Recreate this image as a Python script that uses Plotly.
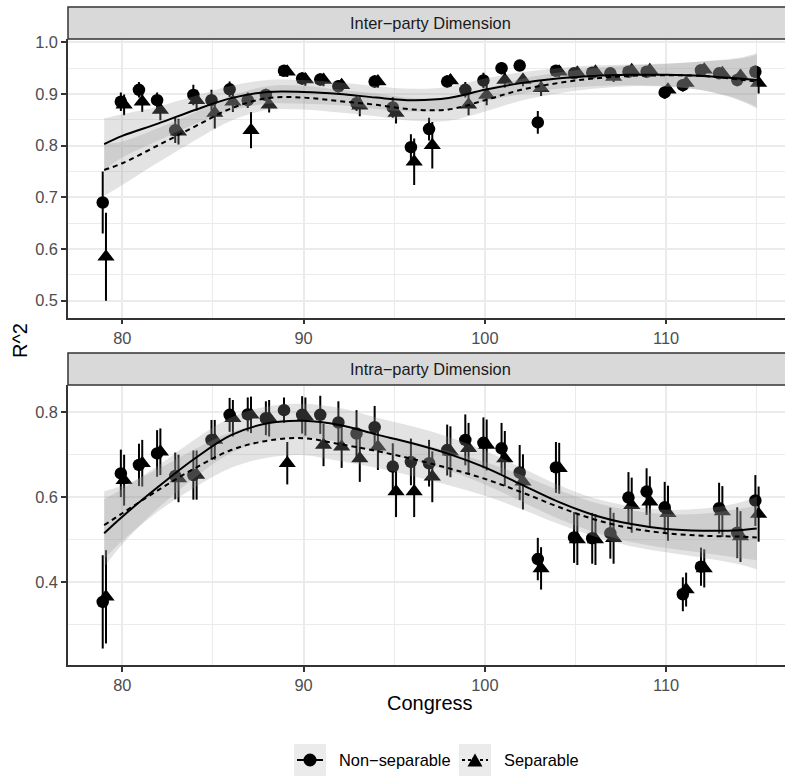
import plotly.graph_objects as go

W, H = 785, 776

# ---------------- data ----------------
congress = list(range(79, 116))

inter_nonsep = [0.690, 0.885, 0.908, 0.888, 0.830, 0.898, 0.888, 0.909, 0.888, 0.898,
                0.945, 0.930, 0.928, 0.915, 0.882, 0.924, 0.874, 0.797, 0.832, 0.924,
                0.908, 0.926, 0.950, 0.955, 0.845, 0.945, 0.940, 0.941, 0.940, 0.943,
                0.943, 0.903, 0.917, 0.946, 0.940, 0.927, 0.943]
inter_nonsep_err = [0.060, 0.018, 0.015, 0.015, 0.025, 0.020, 0.020, 0.015, 0.015, 0.012,
                    0.010, 0.012, 0.012, 0.012, 0.015, 0.012, 0.020, 0.025, 0.022, 0.012,
                    0.015, 0.015, 0.012, 0.010, 0.022, 0.010, 0.010, 0.010, 0.010, 0.010,
                    0.010, 0.012, 0.012, 0.010, 0.010, 0.012, 0.012]
inter_sep = [0.585, 0.879, 0.885, 0.869, 0.827, 0.888, 0.863, 0.885, 0.830, 0.879,
             0.943, 0.928, 0.927, 0.917, 0.877, 0.924, 0.863, 0.769, 0.801, 0.926,
             0.879, 0.898, 0.927, 0.927, 0.911, 0.943, 0.941, 0.943, 0.933, 0.946,
             0.946, 0.908, 0.921, 0.947, 0.940, 0.935, 0.921]
inter_sep_err = [0.085, 0.020, 0.020, 0.020, 0.025, 0.020, 0.030, 0.020, 0.035, 0.015,
                 0.010, 0.012, 0.012, 0.012, 0.020, 0.012, 0.020, 0.045, 0.045, 0.012,
                 0.020, 0.020, 0.015, 0.012, 0.015, 0.010, 0.010, 0.010, 0.010, 0.010,
                 0.010, 0.012, 0.012, 0.010, 0.010, 0.012, 0.020]

intra_nonsep = [0.353, 0.656, 0.676, 0.703, 0.650, 0.652, 0.735, 0.794, 0.795, 0.786,
                0.805, 0.794, 0.794, 0.776, 0.750, 0.765, 0.672, 0.683, 0.680, 0.711,
                0.735, 0.728, 0.715, 0.658, 0.454, 0.670, 0.505, 0.503, 0.515, 0.599,
                0.613, 0.576, 0.371, 0.436, 0.574, 0.516, 0.592]
intra_nonsep_err = [0.110, 0.056, 0.050, 0.055, 0.055, 0.058, 0.047, 0.040, 0.040, 0.040,
                    0.030, 0.044, 0.045, 0.050, 0.055, 0.050, 0.055, 0.055, 0.055, 0.060,
                    0.060, 0.060, 0.060, 0.065, 0.050, 0.060, 0.060, 0.060, 0.060, 0.060,
                    0.055, 0.060, 0.040, 0.045, 0.060, 0.060, 0.060]
intra_sep = [0.365, 0.640, 0.680, 0.707, 0.644, 0.652, 0.735, 0.786, 0.794, 0.786,
             0.680, 0.790, 0.723, 0.719, 0.691, 0.719, 0.613, 0.613, 0.648, 0.707,
             0.715, 0.723, 0.691, 0.636, 0.432, 0.668, 0.500, 0.500, 0.503, 0.581,
             0.589, 0.562, 0.382, 0.432, 0.566, 0.507, 0.560]
intra_sep_err = [0.110, 0.060, 0.055, 0.055, 0.056, 0.058, 0.047, 0.043, 0.043, 0.043,
                 0.050, 0.045, 0.050, 0.050, 0.055, 0.055, 0.060, 0.060, 0.060, 0.060,
                 0.060, 0.060, 0.065, 0.065, 0.050, 0.060, 0.060, 0.060, 0.060, 0.065,
                 0.060, 0.065, 0.040, 0.045, 0.060, 0.060, 0.065]

# loess fits
smooth_x = [79, 80, 82, 84, 86, 88, 90, 92, 94, 96, 98, 100, 102, 104, 106, 108, 110, 112, 114, 115]
inter_fit_nonsep = [0.803, 0.819, 0.843, 0.869, 0.892, 0.904, 0.904, 0.900, 0.893, 0.888,
                    0.892, 0.908, 0.921, 0.930, 0.935, 0.937, 0.937, 0.935, 0.930, 0.927]
inter_fit_sep = [0.753, 0.766, 0.801, 0.837, 0.872, 0.892, 0.893, 0.886, 0.879, 0.870,
                 0.870, 0.888, 0.908, 0.921, 0.930, 0.935, 0.936, 0.935, 0.928, 0.924]
inter_fit_se = [0.050, 0.042, 0.033, 0.027, 0.024, 0.023, 0.023, 0.022, 0.022, 0.022,
                0.022, 0.022, 0.021, 0.020, 0.020, 0.020, 0.022, 0.028, 0.040, 0.052]
intra_fit_nonsep = [0.515, 0.554, 0.625, 0.691, 0.746, 0.774, 0.780, 0.770, 0.748, 0.727,
                    0.702, 0.670, 0.630, 0.590, 0.558, 0.537, 0.525, 0.521, 0.522, 0.526]
intra_fit_sep = [0.534, 0.562, 0.617, 0.668, 0.711, 0.733, 0.739, 0.725, 0.709, 0.690,
                 0.668, 0.643, 0.612, 0.578, 0.548, 0.527, 0.515, 0.509, 0.507, 0.505]
intra_fit_se = [0.080, 0.065, 0.050, 0.045, 0.042, 0.040, 0.040, 0.040, 0.040, 0.040,
                0.040, 0.040, 0.040, 0.040, 0.040, 0.042, 0.045, 0.052, 0.065, 0.075]

panel_titles = ["Inter\u2212party Dimension", "Intra\u2212party Dimension"]
series_names = ["Non\u2212separable", "Separable"]
x_ticks = [80, 90, 100, 110]
x_minor = [85, 95, 105, 115]
top_y_ticks = [0.5, 0.6, 0.7, 0.8, 0.9, 1.0]
top_y_minor = [0.55, 0.65, 0.75, 0.85, 0.95]
bot_y_ticks = [0.4, 0.6, 0.8]
bot_y_minor = [0.3, 0.5, 0.7]

# ---------------- layout helpers ----------------
def px(X):
    return X / W

def py(Y):
    return 1 - Y / H

FONT = "Liberation Sans, Arial, Helvetica, sans-serif"
SMALL = 16.4
BIG = 20
RIBBON = "rgba(153,153,153,0.27)"
DASH = "5px,4px"

PANEL_L = 68
TOP = (39, 317.7)
BOT = (385, 665)
XRANGE = [77.005, 116.555]

fig = go.Figure()

panels = [
    ("x", "y", inter_nonsep, inter_nonsep_err, inter_sep, inter_sep_err,
     inter_fit_nonsep, inter_fit_sep, inter_fit_se),
    ("x2", "y2", intra_nonsep, intra_nonsep_err, intra_sep, intra_sep_err,
     intra_fit_nonsep, intra_fit_sep, intra_fit_se),
]

for xa, ya, ns, nse, sp, spe, fns, fsp, fse in panels:
    # points with error bars
    fig.add_trace(go.Scatter(
        x=[c - 0.08 for c in congress], y=ns, mode="markers",
        marker=dict(symbol="circle", size=12.5, color="black", line=dict(width=0)),
        error_y=dict(type="data", array=nse, symmetric=True, thickness=2, width=0, color="black"),
        xaxis=xa, yaxis=ya, hoverinfo="skip", showlegend=False))
    fig.add_trace(go.Scatter(
        x=[c + 0.10 for c in congress], y=sp, mode="markers",
        marker=dict(symbol="triangle-up", size=15, color="black", line=dict(width=0)),
        error_y=dict(type="data", array=spe, symmetric=True, thickness=2, width=0, color="black"),
        xaxis=xa, yaxis=ya, hoverinfo="skip", showlegend=False))
    # ribbons (drawn above the points, like ggplot)
    for fit in (fns, fsp):
        lo = [v - s for v, s in zip(fit, fse)]
        hi = [v + s for v, s in zip(fit, fse)]
        fig.add_trace(go.Scatter(x=smooth_x, y=lo, mode="lines",
                                 line=dict(width=0, shape="spline", color="rgba(0,0,0,0)"),
                                 xaxis=xa, yaxis=ya, hoverinfo="skip", showlegend=False))
        fig.add_trace(go.Scatter(x=smooth_x, y=hi, mode="lines", fill="tonexty",
                                 fillcolor=RIBBON,
                                 line=dict(width=0, shape="spline", color="rgba(0,0,0,0)"),
                                 xaxis=xa, yaxis=ya, hoverinfo="skip", showlegend=False))
    # fitted lines
    fig.add_trace(go.Scatter(x=smooth_x, y=fns, mode="lines",
                             line=dict(color="black", width=2, shape="spline"),
                             xaxis=xa, yaxis=ya, hoverinfo="skip", showlegend=False))
    fig.add_trace(go.Scatter(x=smooth_x, y=fsp, mode="lines",
                             line=dict(color="black", width=2, shape="spline", dash=DASH),
                             xaxis=xa, yaxis=ya, hoverinfo="skip", showlegend=False))

axis_common = dict(
    showline=True, linecolor="#333333", linewidth=1.5,
    ticks="outside", ticklen=5, tickwidth=1.5, tickcolor="#333333",
    tickfont=dict(family=FONT, size=SMALL, color="#4d4d4d"),
    showgrid=True, gridcolor="#ebebeb", gridwidth=2, zeroline=False,
)

def xaxis_cfg(anchor):
    return dict(axis_common, domain=[px(PANEL_L), 1], range=XRANGE, anchor=anchor,
                tickmode="array", tickvals=x_ticks,
                minor=dict(tickvals=x_minor, showgrid=True, gridcolor="#ebebeb",
                           gridwidth=1, ticks=""))

def yaxis_cfg(anchor, dom, rng, ticks, minor):
    return dict(axis_common, domain=dom, range=rng, anchor=anchor,
                tickmode="array", tickvals=ticks, tickformat=".1f",
                minor=dict(tickvals=minor, showgrid=True, gridcolor="#ebebeb",
                           gridwidth=1, ticks=""))

fig.update_layout(
    width=W, height=H,
    margin=dict(l=0, r=0, t=0, b=0, autoexpand=False),
    paper_bgcolor="white", plot_bgcolor="white",
    showlegend=False,
    xaxis=xaxis_cfg("y"),
    yaxis=yaxis_cfg("x", [py(TOP[1]), py(TOP[0])], [0.467, 1.0064], top_y_ticks, top_y_minor),
    xaxis2=xaxis_cfg("y2"),
    yaxis2=yaxis_cfg("x2", [py(BOT[1]), py(BOT[0])], [0.2042, 0.8644], bot_y_ticks, bot_y_minor),
)

shapes = []
annotations = []

# facet strips
for (y0, y1), title in zip([(7, 39), (353, 385)], panel_titles):
    shapes.append(dict(type="rect", xref="paper", yref="paper",
                       x0=px(PANEL_L), x1=px(W + 20), y0=py(y1), y1=py(y0),
                       fillcolor="#d9d9d9", line=dict(color="#333333", width=1.5)))
    annotations.append(dict(text=title, xref="paper", yref="paper",
                            x=px(430), y=py((y0 + y1) / 2), showarrow=False,
                            xanchor="center", yanchor="middle",
                            font=dict(family=FONT, size=SMALL, color="#1a1a1a")))

# axis titles
annotations.append(dict(text="Congress", xref="paper", yref="paper", x=px(430), y=py(703),
                        showarrow=False, xanchor="center", yanchor="middle",
                        font=dict(family=FONT, size=BIG, color="black")))
annotations.append(dict(text="R^2", xref="paper", yref="paper", x=px(20), y=py(341),
                        showarrow=False, xanchor="center", yanchor="middle", textangle=-90,
                        font=dict(family=FONT, size=BIG, color="black")))

# legend (drawn by hand to get ggplot-style grey keys)
key_y0, key_y1 = 744, 776
kc = (key_y0 + key_y1) / 2
for kx, name, dashed in [(294, series_names[0], False), (459, series_names[1], True)]:
    shapes.append(dict(type="rect", xref="paper", yref="paper", layer="below",
                       x0=px(kx), x1=px(kx + 32), y0=py(key_y1), y1=py(key_y0),
                       fillcolor="#ebebeb", line=dict(width=0)))
    shapes.append(dict(type="line", xref="paper", yref="paper",
                       x0=px(kx + 3), x1=px(kx + 29), y0=py(kc), y1=py(kc),
                       line=dict(color="black", width=2, dash=("3px,3px" if dashed else "solid"))))
    cx = kx + 16
    if not dashed:
        r = 6.5
        shapes.append(dict(type="circle", xref="paper", yref="paper",
                           x0=px(cx - r), x1=px(cx + r), y0=py(kc + r), y1=py(kc - r),
                           fillcolor="black", line=dict(width=0)))
    else:
        hw, th = 7.5, 13
        path = "M {} {} L {} {} L {} {} Z".format(
            px(cx - hw), py(kc + th / 2), px(cx + hw), py(kc + th / 2), px(cx), py(kc - th / 2))
        shapes.append(dict(type="path", xref="paper", yref="paper", path=path,
                           fillcolor="black", line=dict(width=0)))
    annotations.append(dict(text=name, xref="paper", yref="paper",
                            x=px(kx + 42.5), y=py(kc), showarrow=False,
                            xanchor="left", yanchor="middle",
                            font=dict(family=FONT, size=SMALL, color="black")))

fig.update_layout(shapes=shapes, annotations=annotations)

fig.write_html("out.html",
               config={"displayModeBar": False},
               post_script="document.body.style.margin='0';document.body.style.padding='0';")
